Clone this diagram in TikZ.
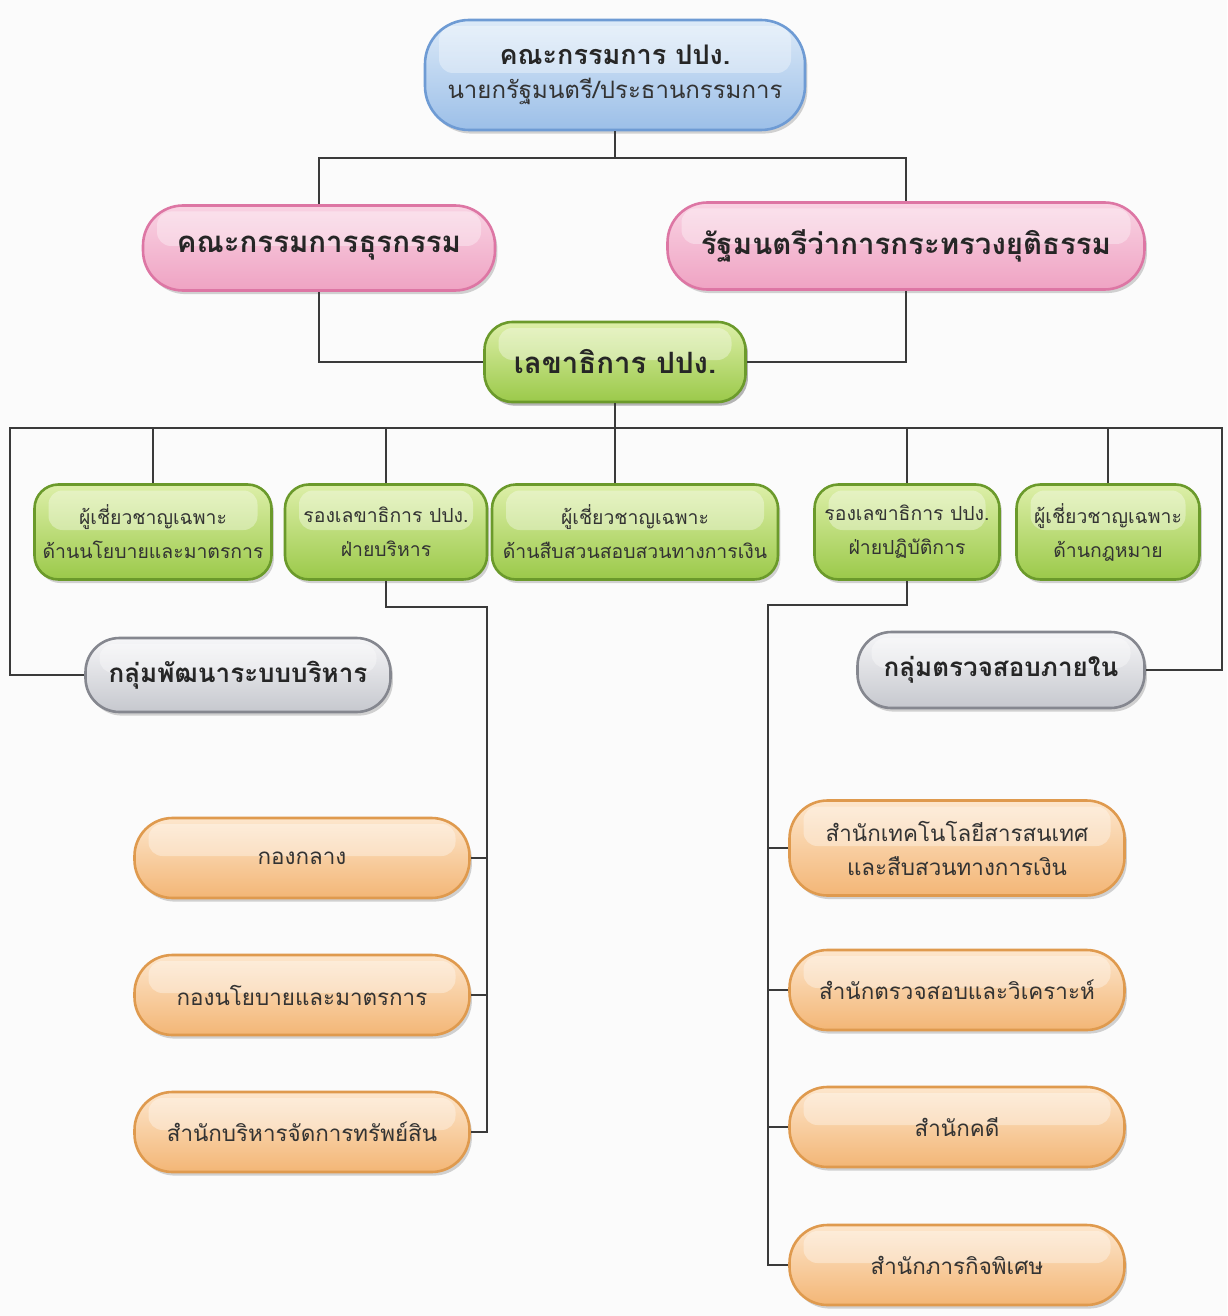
\documentclass[tikz,border=0pt]{standalone}
\usepackage{fontspec}
\newfontfamily\thaifont[Script=Thai]{Loma}
\usetikzlibrary{shadows}
\definecolor{bgc}{HTML}{FBFBFB}
\definecolor{linec}{HTML}{3A3A3A}
\definecolor{blueT}{HTML}{DCEAF8}\definecolor{blueB}{HTML}{9CBFE8}\definecolor{blueD}{HTML}{6E9BD4}
\definecolor{pinkT}{HTML}{F9D3E3}\definecolor{pinkB}{HTML}{EFA3C3}\definecolor{pinkD}{HTML}{DD76A4}
\definecolor{greenT}{HTML}{DDEFA8}\definecolor{greenB}{HTML}{9BC94A}\definecolor{greenD}{HTML}{6B9A2B}
\definecolor{grayT}{HTML}{F6F6F8}\definecolor{grayB}{HTML}{C6C8CE}\definecolor{grayD}{HTML}{85878F}
\definecolor{orT}{HTML}{FDE6CC}\definecolor{orB}{HTML}{F3B676}\definecolor{orD}{HTML}{DF9A4E}
\definecolor{txt}{HTML}{333333}
\tikzset{
  pill/.style={rounded corners=#1, line width=1.3pt, align=center, inner sep=0pt,
    drop shadow={shadow xshift=1.2pt, shadow yshift=-1.8pt, opacity=0.35},
    path picture={\fill[white,opacity=0.35,rounded corners=7pt]
      ([xshift=7pt,yshift=-3pt]path picture bounding box.north west) rectangle
      ([xshift=-7pt,yshift=1pt]path picture bounding box.east);}},
  bluebox/.style={pill=22pt, draw=blueD, top color=blueT, bottom color=blueB},
  pinkbox/.style={pill=20pt, draw=pinkD, top color=pinkT, bottom color=pinkB},
  greenbox/.style={pill=12pt, draw=greenD, top color=greenT, bottom color=greenB},
  graybox/.style={pill=17pt, draw=grayD, top color=grayT, bottom color=grayB},
  orbox/.style={pill=19pt, draw=orD, top color=orT, bottom color=orB},
  head/.style={font=\thaifont\bfseries\fontsize{14.7}{18}\selectfont, text=black!85},
  gbody/.style={font=\thaifont\fontsize{9.7}{17}\selectfont, text=txt},
  obody/.style={font=\thaifont\fontsize{11.2}{17}\selectfont, text=txt},
  grhead/.style={font=\thaifont\bfseries\fontsize{13}{16}\selectfont, text=black!85},
  conn/.style={draw=linec, line width=0.8pt}
}
\begin{document}
\begin{tikzpicture}[x=0.5pt,y=-0.5pt]
\useasboundingbox[fill=bgc] (0,0) rectangle (1227,1316);

% top
\node[bluebox, minimum width=190pt, minimum height=55pt] (top) at (615,75)
  {{\thaifont\bfseries\fontsize{13.5}{17}\selectfont\color{black!85} คณะกรรมการ ปปง.}\\[5pt]
   {\thaifont\fontsize{12}{15}\selectfont\color{txt} นายกรัฐมนตรี/ประธานกรรมการ}};
\node[pinkbox, head, minimum width=176pt, minimum height=42.5pt] (pinkL) at (319,248) {คณะกรรมการธุรกรรม};
\node[pinkbox, head, minimum width=238.5pt, minimum height=43.5pt] (pinkR) at (906,246) {รัฐมนตรีว่าการกระทรวงยุติธรรม};
\node[greenbox, head, minimum width=130.5pt, minimum height=40pt, pill=14pt] (sec) at (615,362) {เลขาธิการ ปปง.};

% green row
\node[greenbox, gbody, minimum width=118.5pt, minimum height=47.5pt] (g1) at (153,532) {ผู้เชี่ยวชาญเฉพาะ\\ด้านนโยบายและมาตรการ};
\node[greenbox, gbody, minimum width=101pt, minimum height=47.5pt] (g2) at (386,532) {รองเลขาธิการ ปปง.\\ฝ่ายบริหาร};
\node[greenbox, gbody, minimum width=143pt, minimum height=47.5pt] (g3) at (635,532) {ผู้เชี่ยวชาญเฉพาะ\\ด้านสืบสวนสอบสวนทางการเงิน};
\node[greenbox, gbody, minimum width=92.5pt, minimum height=47.5pt] (g4) at (907,532) {รองเลขาธิการ ปปง.\\ฝ่ายปฏิบัติการ};
\node[greenbox, gbody, minimum width=91.5pt, minimum height=47.5pt] (g5) at (1108,532) {ผู้เชี่ยวชาญเฉพาะ\\ด้านกฎหมาย};

% gray
\node[graybox, grhead, minimum width=152.5pt, minimum height=37pt] (grL) at (238,675) {กลุ่มพัฒนาระบบบริหาร};
\node[graybox, grhead, minimum width=143.5pt, minimum height=38pt] (grR) at (1001,670) {กลุ่มตรวจสอบภายใน};

% orange left
\node[orbox, obody, minimum width=167.5pt, minimum height=40pt] (o1) at (302,858) {กองกลาง};
\node[orbox, obody, minimum width=167.5pt, minimum height=40pt] (o2) at (302,995) {กองนโยบายและมาตรการ};
\node[orbox, obody, minimum width=167.5pt, minimum height=40pt] (o3) at (302,1132) {สำนักบริหารจัดการทรัพย์สิน};

% orange right
\node[orbox, obody, minimum width=167.5pt, minimum height=47.5pt] (p1) at (957,848) {สำนักเทคโนโลยีสารสนเทศ\\และสืบสวนทางการเงิน};
\node[orbox, obody, minimum width=167.5pt, minimum height=40pt] (p2) at (957,990) {สำนักตรวจสอบและวิเคราะห์};
\node[orbox, obody, minimum width=167.5pt, minimum height=40pt] (p3) at (957,1127) {สำนักคดี};
\node[orbox, obody, minimum width=167.5pt, minimum height=40pt] (p4) at (957,1265) {สำนักภารกิจพิเศษ};

% connectors
\coordinate (t1) at (615,158);
\draw[conn] (top.south) -- (t1);
\draw[conn] (pinkL.north) |- (t1) -| (pinkR.north);
\draw[conn] (pinkL.south) |- (sec.west);
\draw[conn] (pinkR.south) |- (sec.east);

\coordinate (busL) at (10,428);
\coordinate (busR) at (1222,428);
\draw[conn] (sec.south) -- (sec.south |- busL);
\draw[conn] (grL.west) -| (busL) -- (busR) |- (grR.east);
\draw[conn] (g1.north) -- (g1.north |- busL);
\draw[conn] (g2.north) -- (g2.north |- busL);
\draw[conn] (sec.south |- busL) -- (sec.south |- g3.north);
\draw[conn] (g4.north) -- (g4.north |- busL);
\draw[conn] (g5.north) -- (g5.north |- busL);

\coordinate (L0) at (487,607);
\draw[conn] (g2.south) |- (L0) -- (L0 |- o3.east) -- (o3.east);
\draw[conn] (o1.east) -- (o1.east -| L0);
\draw[conn] (o2.east) -- (o2.east -| L0);

\coordinate (R0) at (768,605);
\draw[conn] (g4.south) |- (R0) -- (R0 |- p4.west) -- (p4.west);
\draw[conn] (p1.west) -- (p1.west -| R0);
\draw[conn] (p2.west) -- (p2.west -| R0);
\draw[conn] (p3.west) -- (p3.west -| R0);
\end{tikzpicture}
\end{document}
